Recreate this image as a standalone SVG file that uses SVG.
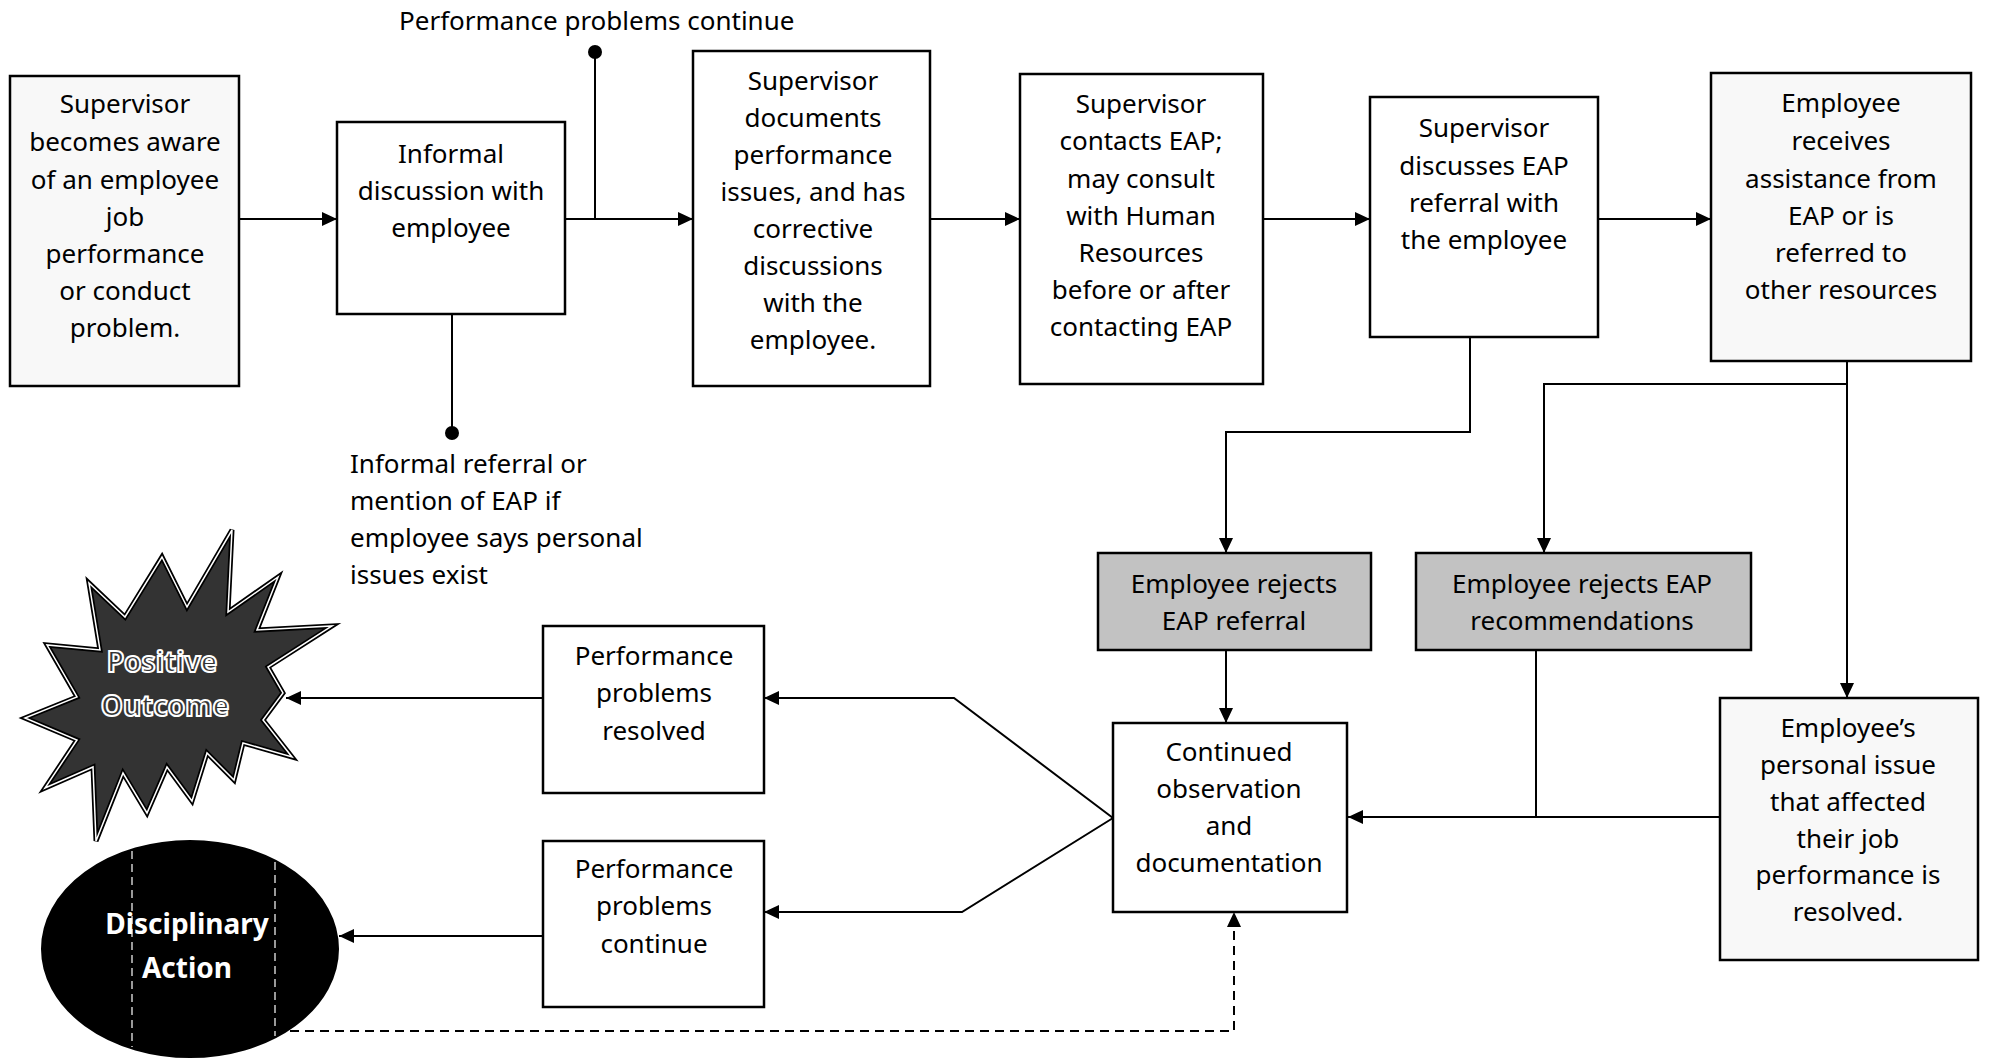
<svg xmlns="http://www.w3.org/2000/svg" width="1990" height="1058" viewBox="0 0 1990 1058">
<defs>
<marker id="ah" markerUnits="userSpaceOnUse" markerWidth="16" markerHeight="14" refX="15" refY="7" orient="auto">
<path d="M0,0 L15,7 L0,14 z" fill="#000"/>
</marker>
<style>
.box{fill:#fff;stroke:#000;stroke-width:2.5}
.lt{fill:#f8f8f8}
.gr{fill:#c2c2c2}
.t{font-family:"Noto Sans","DejaVu Sans",sans-serif;font-size:26px;fill:#000;text-anchor:middle}
.l{text-anchor:start}
.c{fill:none;stroke:#000;stroke-width:2}
.a{marker-end:url(#ah)}
.d{stroke-dasharray:9,6}
.big{font-family:"Noto Sans","DejaVu Sans",sans-serif;font-size:28px;font-weight:bold;text-anchor:middle}
</style>
</defs>
<rect width="1990" height="1058" fill="#fff"/>

<g id="connectors">
<path class="c a" d="M239,219 H337"/>
<path class="c a" d="M565,219 H693"/>
<path class="c a" d="M930,219 H1020"/>
<path class="c a" d="M1263,219 H1370"/>
<path class="c a" d="M1598,219 H1711"/>
<path class="c" d="M595,219 V52"/>
<circle cx="595" cy="52" r="7" fill="#000"/>
<path class="c" d="M452,314 V433"/>
<circle cx="452" cy="433" r="7" fill="#000"/>
<path class="c a" d="M1470,338 V432 H1226 V553"/>
<path class="c a" d="M1847,361 V698"/>
<path class="c a" d="M1847,384 H1544 V553"/>
<path class="c a" d="M1226,650 V723"/>
<path class="c" d="M1536,650 V817"/>
<path class="c a" d="M1720,817 H1348"/>
<path class="c a" d="M1113,818 L954,698 H764"/>
<path class="c a" d="M1113,818 L962,912 H764"/>
<path class="c a" d="M543,698 H286"/>
<path class="c a" d="M543,936 H339"/>
<path class="c a d" d="M290,1031 H1234 V912"/>
</g>

<g id="n1">
<rect class="box lt" x="10" y="76" width="229" height="310"/>
<text class="t" x="125" y="113">Supervisor</text>
<text class="t" x="125" y="151">becomes aware</text>
<text class="t" x="125" y="189">of an employee</text>
<text class="t" x="125" y="226">job</text>
<text class="t" x="125" y="263">performance</text>
<text class="t" x="125" y="300">or conduct</text>
<text class="t" x="125" y="337">problem.</text>
</g>

<g id="n2">
<rect class="box" x="337" y="122" width="228" height="192"/>
<text class="t" x="451" y="163">Informal</text>
<text class="t" x="451" y="200">discussion with</text>
<text class="t" x="451" y="237">employee</text>
</g>

<g id="lbl-continue">
<text class="t l" x="399" y="30">Performance problems continue</text>
</g>

<g id="lbl-informal">
<text class="t l" x="350" y="473">Informal referral or</text>
<text class="t l" x="350" y="510">mention of EAP if</text>
<text class="t l" x="350" y="547">employee says personal</text>
<text class="t l" x="350" y="584">issues exist</text>
</g>

<g id="n3">
<rect class="box" x="693" y="51" width="237" height="335"/>
<text class="t" x="813" y="90">Supervisor</text>
<text class="t" x="813" y="127">documents</text>
<text class="t" x="813" y="164">performance</text>
<text class="t" x="813" y="201">issues, and has</text>
<text class="t" x="813" y="238">corrective</text>
<text class="t" x="813" y="275">discussions</text>
<text class="t" x="813" y="312">with the</text>
<text class="t" x="813" y="349">employee.</text>
</g>

<g id="n4">
<rect class="box" x="1020" y="74" width="243" height="310"/>
<text class="t" x="1141" y="113">Supervisor</text>
<text class="t" x="1141" y="150">contacts EAP;</text>
<text class="t" x="1141" y="188">may consult</text>
<text class="t" x="1141" y="225">with Human</text>
<text class="t" x="1141" y="262">Resources</text>
<text class="t" x="1141" y="299">before or after</text>
<text class="t" x="1141" y="336">contacting EAP</text>
</g>

<g id="n5">
<rect class="box" x="1370" y="97" width="228" height="240"/>
<text class="t" x="1484" y="137">Supervisor</text>
<text class="t" x="1484" y="175">discusses EAP</text>
<text class="t" x="1484" y="212">referral with</text>
<text class="t" x="1484" y="249">the employee</text>
</g>

<g id="n6">
<rect class="box lt" x="1711" y="73" width="260" height="288"/>
<text class="t" x="1841" y="112">Employee</text>
<text class="t" x="1841" y="150">receives</text>
<text class="t" x="1841" y="188">assistance from</text>
<text class="t" x="1841" y="225">EAP or is</text>
<text class="t" x="1841" y="262">referred to</text>
<text class="t" x="1841" y="299">other resources</text>
</g>

<g id="n7">
<rect class="box gr" x="1098" y="553" width="273" height="97"/>
<text class="t" x="1234" y="593">Employee rejects</text>
<text class="t" x="1234" y="630">EAP referral</text>
</g>

<g id="n8">
<rect class="box gr" x="1416" y="553" width="335" height="97"/>
<text class="t" x="1582" y="593">Employee rejects EAP</text>
<text class="t" x="1582" y="630">recommendations</text>
</g>

<g id="n9">
<rect class="box" x="1113" y="723" width="234" height="189"/>
<text class="t" x="1229" y="761">Continued</text>
<text class="t" x="1229" y="798">observation</text>
<text class="t" x="1229" y="835">and</text>
<text class="t" x="1229" y="872">documentation</text>
</g>

<g id="n10">
<rect class="box lt" x="1720" y="698" width="258" height="262"/>
<text class="t" x="1848" y="737">Employee’s</text>
<text class="t" x="1848" y="774">personal issue</text>
<text class="t" x="1848" y="811">that affected</text>
<text class="t" x="1848" y="848">their job</text>
<text class="t" x="1848" y="884">performance is</text>
<text class="t" x="1848" y="921">resolved.</text>
</g>

<g id="n11">
<rect class="box" x="543" y="626" width="221" height="167"/>
<text class="t" x="654" y="665">Performance</text>
<text class="t" x="654" y="702">problems</text>
<text class="t" x="654" y="740">resolved</text>
</g>

<g id="n12">
<rect class="box" x="543" y="841" width="221" height="166"/>
<text class="t" x="654" y="878">Performance</text>
<text class="t" x="654" y="915">problems</text>
<text class="t" x="654" y="953">continue</text>
</g>

<g id="n13">
<polygon id="star" points="232,530 228,612 278,577 257,630 332,626 268,667 283,693 263,720 292,757 243,743 234,780 207,753 192,801 167,767 147,813 123,773 96,841 93,767 45,788 77,740 25,718 77,697 47,645 100,650 89,583 125,617 162,557 187,607" fill="#333" stroke="#000" stroke-width="5" stroke-linejoin="miter"/>
<polygon points="232,530 228,612 278,577 257,630 332,626 268,667 283,693 263,720 292,757 243,743 234,780 207,753 192,801 167,767 147,813 123,773 96,841 93,767 45,788 77,740 25,718 77,697 47,645 100,650 89,583 125,617 162,557 187,607" fill="none" stroke="#fff" stroke-width="1.5"/>
<text class="big" x="162" y="672" fill="#333" stroke="#fff" stroke-width="2">Positive</text>
<text class="big" x="165" y="716" fill="#333" stroke="#fff" stroke-width="2">Outcome</text>
</g>

<g id="n14">
<ellipse cx="190" cy="949" rx="148" ry="108" fill="#000" stroke="#000" stroke-width="2"/>
<line x1="132" y1="851" x2="132" y2="1047" stroke="#fff" stroke-width="1.2" stroke-dasharray="8,5"/>
<line x1="275" y1="862" x2="275" y2="1036" stroke="#fff" stroke-width="1.2" stroke-dasharray="8,5"/>
<text class="big" x="187" y="934" fill="#fff">Disciplinary</text>
<text class="big" x="187" y="978" fill="#fff">Action</text>
</g>
</svg>
